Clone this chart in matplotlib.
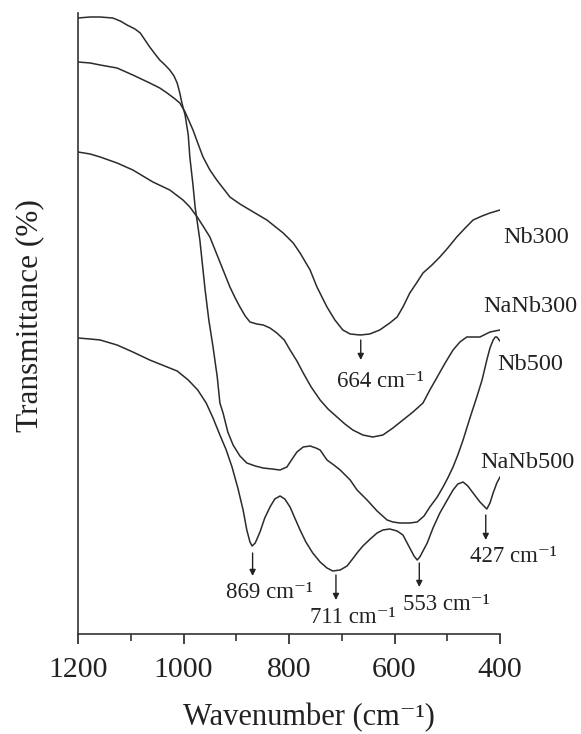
import matplotlib
matplotlib.use("Agg")
import matplotlib.pyplot as plt

plt.rcParams['font.family'] = ['Liberation Serif', 'DejaVu Serif']

# ---- data (wavenumber in cm-1, transmittance in arbitrary offset units) ----
nb300_w = [1200, 1177, 1158, 1126, 1096, 1064, 1045, 1031, 1016, 1007,
           997, 982, 973, 963, 950, 937, 912, 893, 874, 842,
           811, 792, 779, 760, 747, 728, 713, 698, 684, 665,
           647, 628, 609, 595, 584, 571, 557, 546, 529, 514,
           499, 482, 466, 451, 434, 419, 400]
nb300_t = [572, 571, 569, 566, 559, 551, 546, 541, 535, 531,
           522, 504, 491, 477, 464, 454, 437, 430, 424, 414,
           401, 391, 381, 364, 347, 327, 314, 304, 300, 299,
           300, 304, 311, 317, 327, 341, 352, 361, 369, 377,
           386, 397, 406, 414, 418, 421, 424]

nb500_w = [1200, 1177, 1158, 1134, 1120, 1107, 1092, 1082, 1073, 1064,
           1054, 1045, 1035, 1026, 1018, 1012, 1007, 1003, 997, 991,
           988, 982, 978, 969, 959, 952, 944, 936, 931, 925,
           916, 906, 893, 880, 864, 849, 832, 817, 804, 794,
           785, 773, 760, 749, 741, 728, 715, 703, 684, 671,
           652, 633, 614, 603, 590, 571, 557, 544, 533, 519,
           508, 499, 489, 480, 470, 457, 444, 434, 425, 419,
           413, 409, 406, 400]
nb500_t = [616, 617, 617, 616, 613, 609, 605, 601, 594, 587,
           580, 574, 569, 564, 558, 551, 541, 531, 519, 499,
           477, 449, 427, 394, 344, 314, 287, 257, 231, 221,
           202, 189, 178, 171, 168, 166, 165, 164, 167, 175,
           182, 187, 188, 186, 184, 174, 169, 164, 154, 144,
           134, 123, 114, 112, 111, 111, 112, 118, 127, 137,
           147, 156, 167, 179, 194, 216, 237, 254, 274, 286,
           294, 297, 297, 293]

nanb300_w = [1200, 1177, 1158, 1126, 1096, 1058, 1026, 1001, 988, 974,
             963, 950, 931, 912, 902, 893, 883, 874, 861, 849,
             836, 823, 809, 798, 785, 773, 758, 741, 726, 709,
             694, 679, 660, 641, 622, 603, 584, 565, 546, 533,
             519, 504, 489, 476, 463, 451, 438, 419, 400]
nanb300_t = [482, 480, 477, 471, 464, 452, 444, 434, 427, 417,
             408, 397, 372, 347, 336, 327, 318, 312, 310, 309,
             306, 301, 294, 284, 273, 261, 247, 234, 225, 217,
             210, 204, 199, 197, 199, 206, 214, 222, 231, 244,
             257, 271, 284, 292, 297, 297, 297, 302, 304]

nanb500_w = [1200, 1177, 1158, 1126, 1096, 1064, 1031, 1012, 991, 973,
             957, 944, 931, 919, 908, 897, 887, 880, 874, 870,
             864, 855, 846, 836, 827, 817, 808, 798, 789, 779,
             768, 755, 741, 728, 717, 703, 690, 681, 671, 660,
             646, 633, 622, 609, 595, 584, 571, 563, 557, 552,
             538, 527, 514, 500, 489, 480, 470, 461, 451, 438,
             425, 419, 413, 406, 400]
nanb500_t = [296, 295, 294, 289, 282, 274, 267, 263, 254, 244,
             231, 216, 199, 184, 167, 146, 124, 104, 92, 88,
             91, 102, 116, 127, 135, 138, 135, 127, 116, 104,
             92, 81, 72, 66, 63, 64, 68, 74, 81, 88,
             95, 101, 104, 105, 103, 99, 86, 78, 74, 77,
             91, 106, 121, 134, 144, 150, 152, 148, 141, 132,
             125, 131, 141, 151, 157]

series_names = ['Nb300', 'NaNb300', 'Nb500', 'NaNb500']
series_label_pos = [(394, 391), (432, 322), (406, 264), (438, 166)]

peak_labels = ['664', '869', '711', '553', '427']
peak_text_pos = [(709, 247), (919, 36), (760, 11), (584, 24), (457, 72)]
peak_arrow_y = [(294, 274), (81, 58), (59, 34), (71, 47), (119, 94)]

x_ticks = [1200, 1000, 800, 600, 400]
x_minor = [1100, 900, 700, 500]

# ---- figure ----
W, H = 581, 734
fig = plt.figure(figsize=(W / 100, H / 100), dpi=100)
left, right, top, bottom = 78, 500, 13, 634
ax = fig.add_axes([left / W, 1 - bottom / H, (right - left) / W, (bottom - top) / H])

lc = '#2b2b2b'
for w, t in [(nb300_w, nb300_t), (nanb300_w, nanb300_t), (nb500_w, nb500_t), (nanb500_w, nanb500_t)]:
    ax.plot(w, t, color=lc, lw=1.1, solid_joinstyle='round')

ax.set_xlim(1200, 400)
ax.set_ylim(0, 621)
ax.set_xticks(x_ticks)
ax.set_xticks(x_minor, minor=True)
ax.set_yticks([])
ax.spines['top'].set_visible(False)
ax.spines['right'].set_visible(False)
for s in ['left', 'bottom']:
    ax.spines[s].set_linewidth(1.2)
    ax.spines[s].set_color('#333333')
ax.tick_params(axis='x', which='major', direction='out', length=7.5, width=1.2,
               labelsize=21.5, pad=9, colors='#222222')
ax.tick_params(axis='x', which='minor', direction='out', length=5, width=1.2, colors='#333333')

tc = '#222222'
for name, (x, y) in zip(series_names, series_label_pos):
    ax.text(x, y, name, fontsize=17.5, ha='left', va='baseline', color=tc, clip_on=False)

for lab, (x, y), (y0, y1) in zip(peak_labels, peak_text_pos, peak_arrow_y):
    ax.text(x, y, lab + ' cm\u207b\u00b9', fontsize=16.5, ha='left', va='baseline', color=tc,
            clip_on=False)
    xv = float(lab)
    ax.annotate('', xy=(xv, y1), xytext=(xv, y0),
                arrowprops=dict(arrowstyle='-|>', color=tc, lw=1.0, mutation_scale=9,
                                shrinkA=0, shrinkB=0), annotation_clip=False)

fig.text(309 / W, 1 - 725 / H, 'Wavenumber (cm\u207b\u00b9)', fontsize=22, ha='center',
         va='baseline', color=tc)
fig.text(30 / W, 1 - 316 / H, 'Transmittance (%)', fontsize=22.5, ha='center',
         va='center', rotation=90, color=tc)

fig.savefig('out.png', dpi=100, facecolor='white')
